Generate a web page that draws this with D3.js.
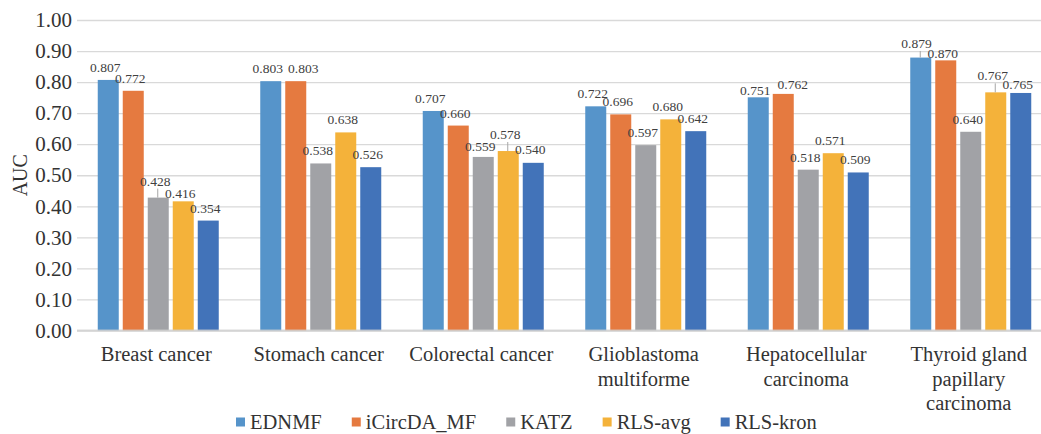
<!DOCTYPE html>
<html>
<head>
<meta charset="utf-8">
<script src="https://cdn.jsdelivr.net/npm/d3@7"></script>
<style>
  html, body { margin: 0; padding: 0; background: #fff; }
  svg { display: block; }
  text { font-family: "Liberation Serif", "Times New Roman", serif; }
</style>
</head>
<body>
<svg id="chart" width="1041" height="434"></svg>
<script>
// Cancer types (line breaks mark how the axis labels wrap)
const categories = [
  "Breast cancer",
  "Stomach cancer",
  "Colorectal cancer",
  "Glioblastoma\nmultiforme",
  "Hepatocellular\ncarcinoma",
  "Thyroid gland\npapillary\ncarcinoma"
];

// AUC per method, one value per cancer type
const EDNMF      = [0.807, 0.803, 0.707, 0.722, 0.751, 0.879];
const iCircDA_MF = [0.772, 0.803, 0.660, 0.696, 0.762, 0.870];
const KATZ       = [0.428, 0.538, 0.559, 0.597, 0.518, 0.640];
const RLS_avg    = [0.416, 0.638, 0.578, 0.680, 0.571, 0.767];
const RLS_kron   = [0.354, 0.526, 0.540, 0.642, 0.509, 0.765];

const seriesNames = ["EDNMF", "iCircDA_MF", "KATZ", "RLS-avg", "RLS-kron"];
const seriesValues = [EDNMF, iCircDA_MF, KATZ, RLS_avg, RLS_kron];
const seriesColors = ["#5694CA", "#E57A40", "#A1A2A6", "#F4B23A", "#4273B9"];

const yTicks = [0, 0.1, 0.2, 0.3, 0.4, 0.5, 0.6, 0.7, 0.8, 0.9, 1.0];

// Hand-placed value labels: "category-series" -> [dx, dy, leader line]
const labelNudges = {
  "0-2": [0, -4, true],
  "0-3": [0, 4.4],
  "1-1": [10.5, 0],
  "2-2": [0, 2.5],
  "2-3": [0, -4, true],
  "2-4": [0, -1],
  "4-0": [0, 5.6],
  "4-1": [12.5, 3.3],
  "5-0": [-1.3, -1.6, true],
  "5-1": [0, 5.3],
  "5-3": [0, -4, true],
  "5-4": [0, 4.2]
};

const svg = d3.select("#chart");
const plot = { left: 77, right: 1052, top: 20, bottom: 330.5 };

const x0 = d3.scaleBand()
  .domain(categories)
  .range([plot.left, plot.right])
  .paddingInner(0)
  .paddingOuter(0);

const x1 = d3.scaleBand()
  .domain(seriesNames)
  .range([0, x0.bandwidth()])
  .paddingInner(0.16)
  .paddingOuter(0.83);

const y = d3.scaleLinear().domain([0, 1]).range([plot.bottom, plot.top]);

// Horizontal gridlines and tick labels
const yAxis = d3.axisLeft(y)
  .tickValues(yTicks)
  .tickFormat(d3.format(".2f"))
  .tickSize(-(plot.right - plot.left))
  .tickPadding(5);

const gy = svg.append("g")
  .attr("transform", `translate(${plot.left},0)`)
  .call(yAxis);
gy.select(".domain").remove();
gy.selectAll(".tick line")
  .attr("stroke", "#d9d9d9")
  .attr("stroke-width", 1.3);
gy.selectAll(".tick text")
  .attr("fill", "#333")
  .style("font-size", "21px")
  .style("font-family", '"Liberation Serif", "Times New Roman", serif');

// Axis title
svg.append("text")
  .attr("transform", `translate(27,${(plot.top + plot.bottom) / 2}) rotate(-90)`)
  .attr("text-anchor", "middle")
  .attr("fill", "#333")
  .style("font-size", "20px")
  .text("AUC");

// Flatten into bar records
const bars = [];
categories.forEach((cat, ci) => {
  seriesNames.forEach((s, si) => {
    bars.push({ cat, ci, s, si, value: seriesValues[si][ci] });
  });
});

const barG = svg.append("g");
barG.selectAll("rect")
  .data(bars)
  .join("rect")
  .attr("x", d => x0(d.cat) + x1(d.s))
  .attr("y", d => y(d.value))
  .attr("width", x1.bandwidth())
  .attr("height", d => y(0) - y(d.value))
  .attr("fill", d => seriesColors[d.si]);

// Category axis baseline, drawn over the bar feet
svg.append("line")
  .attr("x1", plot.left).attr("x2", plot.right)
  .attr("y1", y(0)).attr("y2", y(0))
  .attr("stroke", "#cfcfcf")
  .attr("stroke-opacity", 0.75)
  .attr("stroke-width", 2);

// Value labels with optional leader lines
const labelG = svg.append("g");
const labelGap = 8;
const labelShift = -3;
bars.forEach(d => {
  const n = labelNudges[`${d.ci}-${d.si}`] || [0, 0, false];
  const cx = x0(d.cat) + x1(d.s) + x1.bandwidth() / 2;
  const top = y(d.value);
  const lx = cx + labelShift + n[0];
  const ly = top - labelGap + n[1];
  if (n[2]) {
    labelG.append("line")
      .attr("x1", cx - 0.5).attr("x2", cx - 0.5)
      .attr("y1", top).attr("y2", ly + 3)
      .attr("stroke", "#a6a6a6")
      .attr("stroke-width", 1);
  }
  labelG.append("text")
    .attr("x", lx)
    .attr("y", ly)
    .attr("text-anchor", "middle")
    .attr("fill", "#404040")
    .style("font-size", "13.5px")
    .text(d3.format(".3f")(d.value));
});

// Category labels (wrapped)
const catG = svg.append("g");
categories.forEach(cat => {
  const cx = x0(cat) + x0.bandwidth() / 2 - 2;
  const t = catG.append("text")
    .attr("text-anchor", "middle")
    .attr("fill", "#333")
    .style("font-size", "20.5px");
  cat.split("\n").forEach((line, i) => {
    t.append("tspan")
      .attr("x", cx)
      .attr("y", 361 + i * 24.5)
      .text(line);
  });
});

// Legend
const legend = svg.append("g");
let lx = 236;
const legendBaseline = 429;
seriesNames.forEach((name, i) => {
  legend.append("rect")
    .attr("x", lx)
    .attr("y", legendBaseline - 11.5)
    .attr("width", 9)
    .attr("height", 9)
    .attr("fill", seriesColors[i]);
  const t = legend.append("text")
    .attr("x", lx + 14)
    .attr("y", legendBaseline)
    .attr("fill", "#333")
    .style("font-size", "20.5px")
    .text(name);
  lx += 14 + t.node().getComputedTextLength() + 30;
});
</script>
</body>
</html>
